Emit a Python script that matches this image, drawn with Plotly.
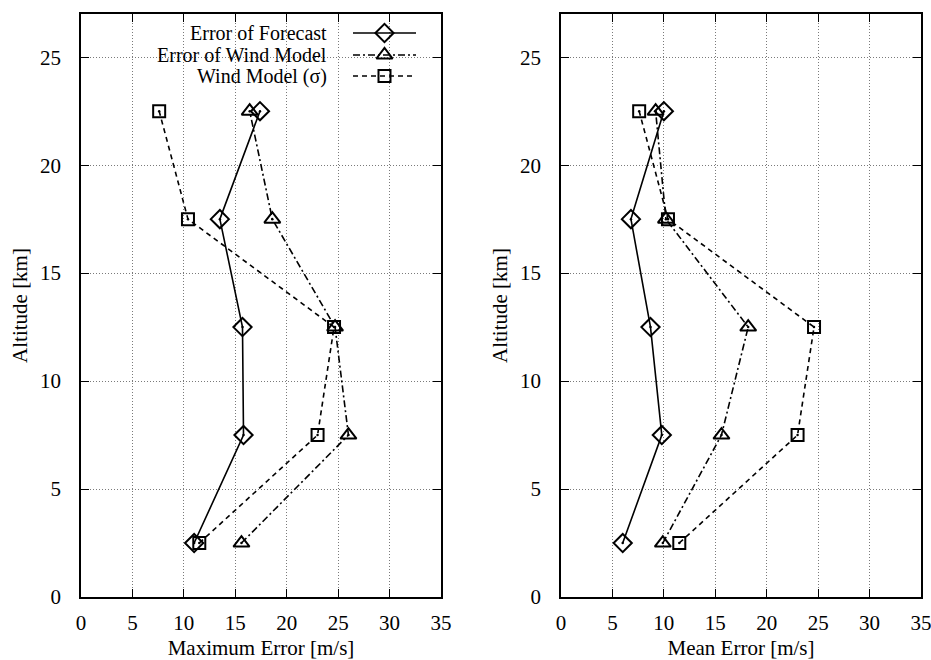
import plotly.graph_objects as go

# Altitude bands (km) and the error values (m/s) for each series
altitude = [2.5, 7.5, 12.5, 17.5, 22.5]
max_forecast = [11.0, 15.8, 15.7, 13.5, 17.4]
max_wind_model = [15.6, 26.0, 24.7, 18.6, 16.4]
mean_forecast = [6.0, 9.8, 8.7, 6.8, 10.0]
mean_wind_model = [9.9, 15.6, 18.2, 10.2, 9.2]
wind_model_sigma = [11.5, 23.0, 24.6, 10.4, 7.6]

series_names = ["Error of Forecast", "Error of Wind Model", "Wind Model (\u03c3)"]
x_titles = ["Maximum Error [m/s]", "Mean Error [m/s]"]
y_title = "Altitude [km]"

FONT = "Liberation Serif"
FS = 21
W, H = 931, 660

styles = [
    dict(dash="solid", symbol="diamond-open", size=14),
    dict(dash="7px,3px,2px,3px", symbol="triangle-up-open", size=14),
    dict(dash="5px,4px", symbol="square-open", size=12),
]

panels = [
    ("x", "y", [max_forecast, max_wind_model, wind_model_sigma]),
    ("x2", "y2", [mean_forecast, mean_wind_model, wind_model_sigma]),
]

fig = go.Figure()

for xa, ya, values in panels:
    for name, vals, st in zip(series_names, values, styles):
        fig.add_trace(go.Scatter(
            x=vals, y=altitude, xaxis=xa, yaxis=ya, name=name,
            mode="lines+markers", showlegend=False,
            line=dict(color="black", width=1.6, dash=st["dash"]),
            marker=dict(symbol=st["symbol"], size=st["size"], color="black",
                        line=dict(color="black", width=2)),
        ))
        # small dot at each data point
        fig.add_trace(go.Scatter(
            x=vals, y=altitude, xaxis=xa, yaxis=ya, mode="markers",
            showlegend=False, hoverinfo="skip",
            marker=dict(symbol="circle", size=2.5, color="black"),
        ))

# Key drawn on a hidden pixel-scaled overlay axis
key_rows = [33, 55, 76]
key_x0, key_x1 = 353, 416
for name, st, yk in zip(series_names, styles, key_rows):
    fig.add_trace(go.Scatter(
        x=[key_x0, key_x1], y=[yk, yk], xaxis="x3", yaxis="y3",
        mode="lines", showlegend=False, hoverinfo="skip",
        line=dict(color="black", width=1.6, dash=st["dash"]),
    ))
    fig.add_trace(go.Scatter(
        x=[(key_x0 + key_x1) / 2], y=[yk], xaxis="x3", yaxis="y3",
        mode="markers", showlegend=False, hoverinfo="skip",
        marker=dict(symbol=st["symbol"], size=st["size"], color="black",
                    line=dict(color="black", width=2)),
    ))
    fig.add_annotation(x=329, y=yk, xref="x3", yref="y3", text=name,
                       showarrow=False, xanchor="right", yanchor="middle",
                       font=dict(family=FONT, size=20, color="black"))

GRID = dict(showgrid=True, gridcolor="#7a7a7a", gridwidth=1,
            griddash="1px,2px")

def xaxis_cfg(domain, title, anchor):
    return dict(
        domain=domain, anchor=anchor, range=[0, 35], dtick=5, tick0=0,
        automargin=False, ticklabeloverflow="allow",
        zeroline=False, showline=True, linecolor="black",
        linewidth=1.6, mirror="ticks", ticks="inside", ticklen=8,
        tickwidth=1.2, tickcolor="black", ticklabelstandoff=6,
        tickfont=dict(family=FONT, size=FS, color="black"),
        title=dict(text=title, standoff=11,
                   font=dict(family=FONT, size=FS, color="black")),
        **GRID,
    )

def yaxis_cfg(anchor):
    return dict(
        domain=[1 - 597 / H, 1 - 14 / H], anchor=anchor, range=[0, 27],
        dtick=5, tick0=0,
        automargin=False, ticklabeloverflow="allow",
        zeroline=False, showline=True, linecolor="black",
        linewidth=1.6, mirror="ticks", ticks="inside", ticklen=8,
        tickwidth=1.2, tickcolor="black", ticklabelstandoff=14,
        tickfont=dict(family=FONT, size=FS, color="black"),
        title=dict(text=y_title, standoff=7,
                   font=dict(family=FONT, size=FS, color="black")),
        **GRID,
    )

fig.update_layout(
    width=W, height=H,
    margin=dict(l=0, r=0, t=0, b=0),
    paper_bgcolor="white", plot_bgcolor="rgba(0,0,0,0)",
    showlegend=False,
    xaxis=xaxis_cfg([81 / W, 441 / W], x_titles[0], "y"),
    yaxis=yaxis_cfg("x"),
    xaxis2=xaxis_cfg([561 / W, 921 / W], x_titles[1], "y2"),
    yaxis2=yaxis_cfg("x2"),
    xaxis3=dict(domain=[0, 1], anchor="y3", range=[0, W], visible=False,
                fixedrange=True),
    yaxis3=dict(domain=[0, 1], anchor="x3", range=[H, 0], visible=False,
                fixedrange=True),
)

fig.write_html("out.html")
